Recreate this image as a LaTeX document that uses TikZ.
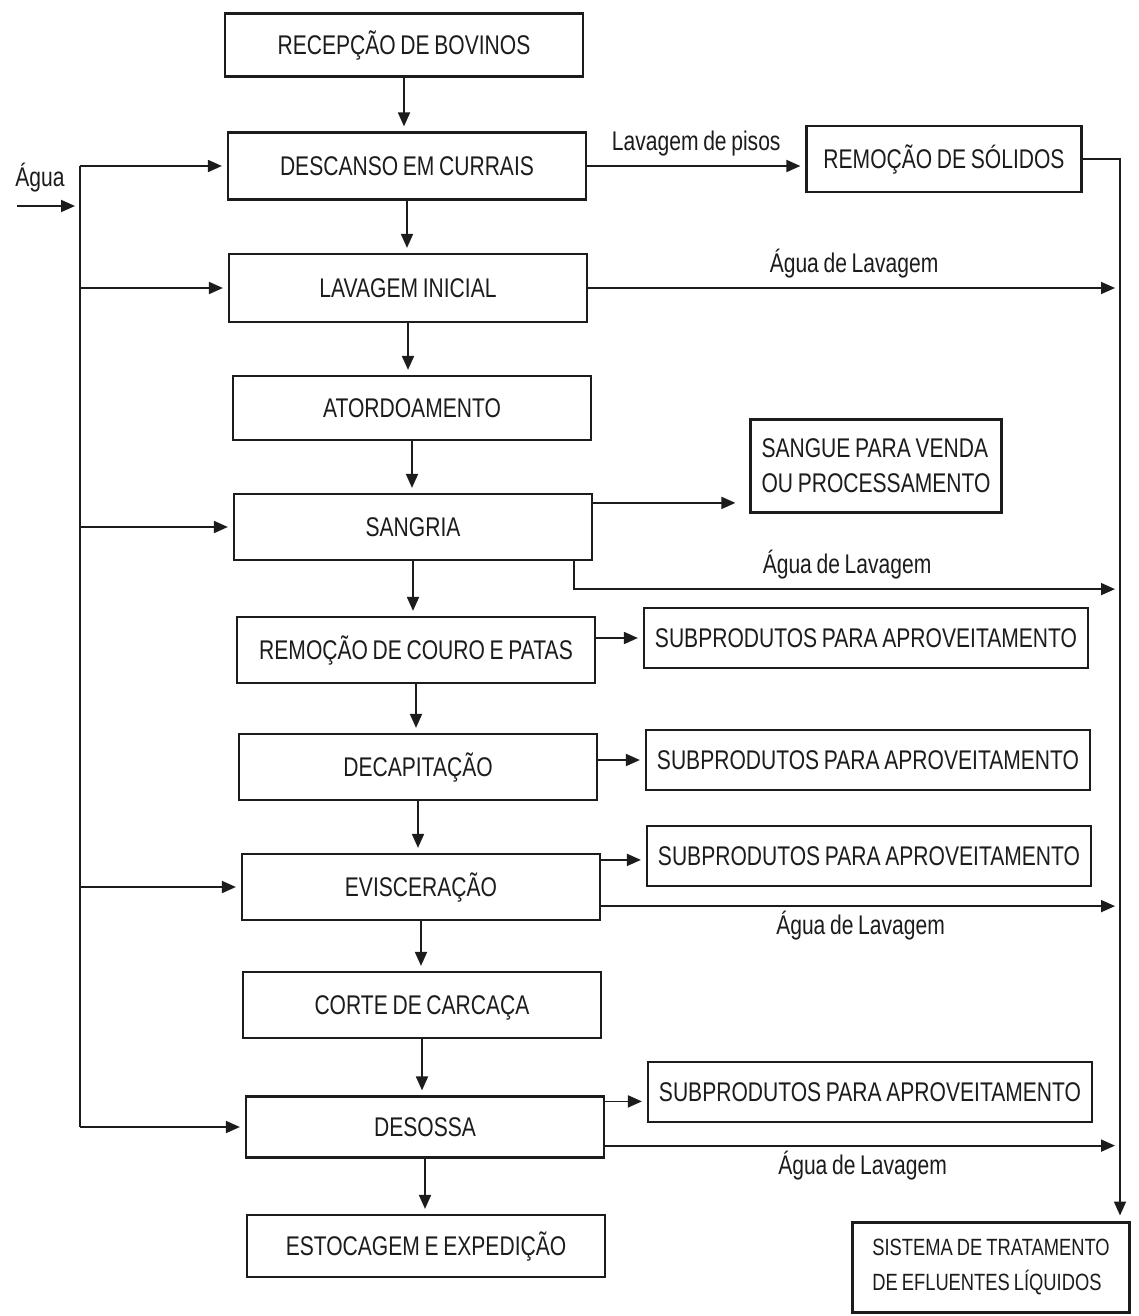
\documentclass[tikz,border=0pt]{standalone}
\usepackage{fontspec}
\setmainfont{Liberation Sans}[FakeStretch=0.78, WordSpace=0.8]
\usetikzlibrary{arrows.meta}
\usepackage{xcolor}
\definecolor{ink}{HTML}{1C1C1C}
\newcommand{\etiq}{\fontsize{27}{35}\selectfont}
\newcommand{\etiqsis}{\fontsize{23.5}{35}\selectfont}

\tikzset{
  etapa/.style={draw=ink, line width=2.2pt, minimum width=358pt, minimum height=64pt,
    inner sep=0pt, text=ink, font=\etiq, text height=19pt, text depth=0pt},
  saida/.style={etapa, minimum width=444pt, minimum height=60pt},
  legenda/.style={text=ink, font=\etiq, inner sep=0pt, text height=19pt, text depth=6pt},
  fluxo/.style={draw=ink, line width=1.8pt, shorten >=5pt, -{Triangle[length=14pt,width=12pt]}},
  linha/.style={draw=ink, line width=1.8pt},
}

\begin{document}
\begin{tikzpicture}[x=1pt, y=-1pt]
  \path[fill=white] (0,0) rectangle (1139,1316);
  \useasboundingbox (0,0) rectangle (1139,1316);
  % Main column of steps
  \node[etapa, minimum height=63pt] (recep)    at (404,45)   {RECEPÇÃO DE BOVINOS};
  \node[etapa, minimum height=67pt] (descanso) at (407,166)  {DESCANSO EM CURRAIS};
  \node[etapa, minimum height=68pt] (lavini)   at (408,288)  {LAVAGEM INICIAL};
  \node[etapa]                      (atord)    at (412,408)  {ATORDOAMENTO};
  \node[etapa, minimum height=66pt] (sangria)  at (413,527)  {SANGRIA};
  \node[etapa, minimum height=66pt] (couro)    at (416,650)  {REMOÇÃO DE COURO E PATAS};
  \node[etapa, minimum height=66pt] (decap)    at (418,767)  {DECAPITAÇÃO};
  \node[etapa, minimum height=66pt] (visc)     at (421,887)  {EVISCERAÇÃO};
  \node[etapa, minimum height=66pt] (corte)    at (422,1005) {CORTE DE CARCAÇA};
  \node[etapa, minimum height=61pt] (desossa)  at (425,1127) {DESOSSA};
  \node[etapa, minimum height=62pt] (estoque)  at (426,1246) {ESTOCAGEM E EXPEDIÇÃO};
  % Right-side outputs
  \node[saida, minimum width=275pt, minimum height=66pt] (solidos) at (944,159) {REMOÇÃO DE SÓLIDOS};
  \node[draw=ink, line width=2.2pt, text=ink, font=\etiq, align=left, inner xsep=4pt, inner ysep=0pt,
        minimum width=251pt, minimum height=93pt] (sangue) at (876,466) {SANGUE PARA VENDA\\OU PROCESSAMENTO};
  \node[saida] (sub1) at (866,638)  {SUBPRODUTOS PARA APROVEITAMENTO};
  \node[saida] (sub2) at (868,760)  {SUBPRODUTOS PARA APROVEITAMENTO};
  \node[saida] (sub3) at (869,856)  {SUBPRODUTOS PARA APROVEITAMENTO};
  \node[saida] (sub4) at (870,1092) {SUBPRODUTOS PARA APROVEITAMENTO};
  \node[draw=ink, line width=3pt, text=ink, font=\etiqsis, align=left, inner xsep=0pt, inner ysep=0pt,
        minimum width=277pt, minimum height=90pt] (sistema) at (991,1267)
        {SISTEMA DE TRATAMENTO\\DE EFLUENTES LÍQUIDOS};
  % Water supply on the left
  \node[legenda] (agua) at (40,180) {Água};
  \coordinate (entrada) at (17,206);
  \coordinate (bus) at (80,0);
  \coordinate (coletor) at (1120,0);
  \draw[fluxo] (entrada) -- (entrada -| bus);
  \draw[linha] (descanso.west -| bus) -- (desossa.west -| bus);
  \foreach \n in {descanso, lavini, sangria, visc, desossa}
    \draw[fluxo] (\n.west -| bus) -- (\n.west);
  % Main flow
  \foreach \a/\b in {recep/descanso, descanso/lavini, lavini/atord, atord/sangria,
                     sangria/couro, couro/decap, decap/visc, visc/corte,
                     corte/desossa, desossa/estoque}
    \draw[fluxo] (\a.south) -- (\a.south |- \b.north);
  % Floor washing and solids removal to effluent treatment
  \draw[fluxo] (descanso.east) -- (descanso.east -| solidos.west)
    node[legenda, midway, above=8.5pt] (pisos) {Lavagem de pisos};
  \draw[fluxo] (solidos.east) -- (solidos.east -| coletor) -- (coletor |- sistema.north);
  % Wash water
  \draw[fluxo] (lavini.east) -- (lavini.east -| coletor)
    node[legenda, midway, above=8.5pt] (aguaA) {Água de Lavagem};
  \coordinate (sangA) at ([yshift=-10pt]sangria.north east);
  \draw[fluxo, shorten >=14pt] (sangA) -- (sangA -| sangue.west);
  \coordinate (sangB) at ([xshift=-19pt]sangria.south east);
  \coordinate (sangC) at ([yshift=-28pt]sangB);
  \draw[fluxo] (sangB) -- (sangC) -- (sangC -| coletor)
    node[legenda, midway, above=8.5pt] (aguaB) {Água de Lavagem};
  % By-products
  \draw[fluxo] (sub1.west -| couro.east) -- (sub1.west);
  \draw[fluxo] (sub2.west -| decap.east) -- (sub2.west);
  \coordinate (viscA) at ([yshift=-7pt]visc.north east);
  \draw[fluxo] (viscA) -- (viscA -| sub3.west);
  \coordinate (viscB) at ([yshift=15pt]visc.south east);
  \draw[fluxo] (viscB) -- (viscB -| coletor)
    node[legenda, midway, below=8.5pt] (aguaC) {Água de Lavagem};
  \coordinate (desA) at ([yshift=-6pt]desossa.north east);
  \draw[fluxo] (desA) -- (desA -| sub4.west);
  \coordinate (desB) at ([yshift=13pt]desossa.south east);
  \draw[fluxo] (desB) -- (desB -| coletor)
    node[legenda, midway, below=8.5pt] (aguaD) {Água de Lavagem};
\end{tikzpicture}
\end{document}
